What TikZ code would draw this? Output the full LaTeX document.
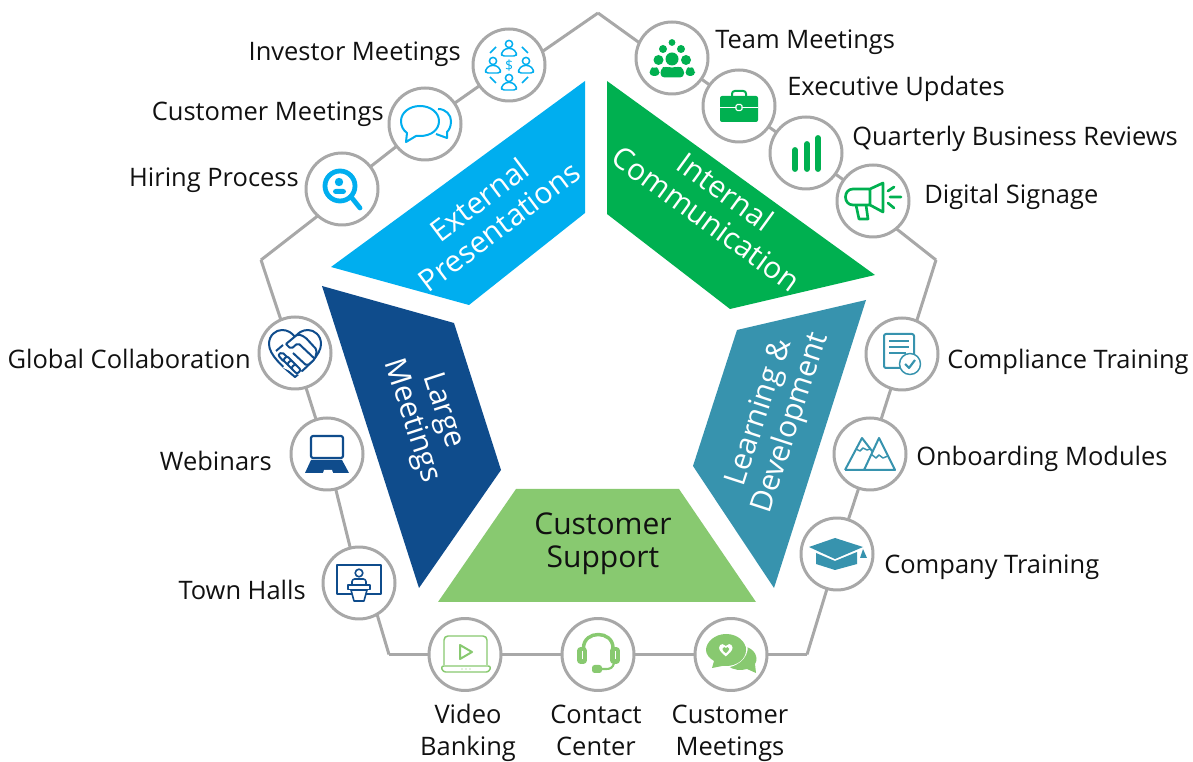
\documentclass[tikz,border=0pt]{standalone}
\usepackage{fontspec}
\setmainfont{Open Sans}
\definecolor{cext}{HTML}{00AEEF}
\definecolor{cint}{HTML}{00B050}
\definecolor{cled}{HTML}{3793AE}
\definecolor{csup}{HTML}{88C970}
\definecolor{clrg}{HTML}{0F4C8C}
\definecolor{cring}{HTML}{A8A8A8}
\definecolor{ctxt}{HTML}{111111}
\newcommand{\lblfont}{\fontsize{19.1pt}{24pt}\selectfont}
\newcommand{\segfont}{\fontsize{22.5pt}{24.7pt}\selectfont}
\newcommand{\personicon}[2]{%
 \draw[cext,line width=1.1pt] (#1,#2-5) circle (3.6);
 \draw[cext,line width=1.1pt,rounded corners=2pt] (#1-7.5,#2+7) -- (#1-7.5,#2+3.5) -- (#1-3.5,#2-.5) -- (#1+3.5,#2-.5) -- (#1+7.5,#2+3.5) -- (#1+7.5,#2+7) -- cycle;}
\newcommand{\hearticon}{(0,24) .. controls (-12,14) and (-26,2) .. (-26,-9) .. controls (-26,-18) and (-19,-23) .. (-13,-23) .. controls (-7,-23) and (-3,-20) .. (0,-16) .. controls (3,-20) and (7,-23) .. (13,-23) .. controls (19,-23) and (26,-18) .. (26,-9) .. controls (26,2) and (12,14) .. (0,24) -- cycle}
\tikzset{
 ring/.style={circle,draw=cring,line width=2.25pt,fill=white,minimum size=54pt,inner sep=0pt,outer sep=0pt},
 conn/.style={draw=cring,line width=2.25pt},
 lbl/.style={text=ctxt,font=\lblfont,inner sep=0pt},
 seg/.style={font=\segfont,align=center,inner sep=0pt,text=white},
}
\begin{document}
\begin{tikzpicture}[x=0.75pt,y=-0.75pt,line join=round]
\useasboundingbox (0,0) rectangle (1193,762);
% corners
\coordinate (top) at (598,13);
\coordinate (rgt) at (936,260);
\coordinate (brt) at (807,654.5);
\coordinate (blf) at (389,654.5);
\coordinate (lft) at (261,260);
% rings
\node[ring] (inv) at (509,65) {};
\node[ring] (cus) at (425,124) {};
\node[ring] (hir) at (342,189) {};
\node[ring] (tea) at (672,58) {};
\node[ring] (exe) at (739,106) {};
\node[ring] (qbr) at (806,153) {};
\node[ring] (sig) at (873,201) {};
\node[ring] (com) at (902,354) {};
\node[ring] (onb) at (870,454) {};
\node[ring] (cmp) at (837,554) {};
\node[ring] (cme) at (731,654.5) {};
\node[ring] (con) at (598,654.5) {};
\node[ring] (vid) at (465,654.5) {};
\node[ring] (tow) at (359,583) {};
\node[ring] (web) at (327,454) {};
\node[ring] (glo) at (295,353) {};
% connectors
\draw[conn] (top) -- (inv.22);
\draw[conn] (top) -- (tea.155);
\draw[conn] (inv) -- (cus);
\draw[conn] (cus) -- (hir);
\draw[conn] (hir.228) -- (lft);
\draw[conn] (tea) -- (exe);
\draw[conn] (exe) -- (qbr);
\draw[conn] (qbr) -- (sig);
\draw[conn] (sig.-50) -- (rgt);
\draw[conn] (rgt) -- (com.66);
\draw[conn] (com) -- (onb);
\draw[conn] (onb) -- (cmp);
\draw[conn] (cmp.-106) -- (brt);
\draw[conn] (brt) -- (cme);
\draw[conn] (cme) -- (con);
\draw[conn] (con) -- (vid);
\draw[conn] (vid) -- (blf);
\draw[conn] (blf) -- (tow.-60);
\draw[conn] (tow) -- (web);
\draw[conn] (web) -- (glo);
\draw[conn] (glo.113) -- (lft);
% segments
\fill[cext] (585,81) -- (585,213) -- (469,305) -- (331,267) -- cycle;
\fill[cint] (607,81) -- (875,275) -- (730,309) -- (607,214) -- cycle;
\fill[cled] (866,300) -- (774,588) -- (693,466) -- (737,330) -- cycle;
\fill[csup] (516,489) -- (679,489) -- (756,602) -- (438,602) -- cycle;
\fill[clrg] (322,286) -- (454,323) -- (501,470) -- (419,588) -- cycle;
\node[seg,rotate=37] (sext) at (489,213) {External\\Presentations};
\node[seg,rotate=-36] (sint) at (716,205) {Internal\\Communication};
\node[seg,rotate=72] (sled) at (776,418) {Learning \&\\Development};
\node[seg,rotate=-72] (slrg) at (427,416) {Large\\Meetings};
\node[seg,text=ctxt] (ssup) at (603,544) {Customer\\Support};
% labels
\node[lbl,anchor=base east] (l1) at (461,61) {Investor Meetings};
\node[lbl,anchor=base east] (l2) at (384,121) {Customer Meetings};
\node[lbl,anchor=base east] (l3) at (299,187) {Hiring Process};
\node[lbl,anchor=base west] (l4) at (715,49) {Team Meetings};
\node[lbl,anchor=base west] (l5) at (787,96) {Executive Updates};
\node[lbl,anchor=base west] (l6) at (852,146) {Quarterly Business Reviews};
\node[lbl,anchor=base west] (l7) at (924,204) {Digital Signage};
\node[lbl,anchor=base west] (l8) at (947,369) {Compliance Training};
\node[lbl,anchor=base west] (l9) at (916,466) {Onboarding Modules};
\node[lbl,anchor=base west] (l10) at (884,574) {Company Training};
\node[lbl,anchor=base east] (l11) at (251,369) {Global Collaboration};
\node[lbl,anchor=base east] (l12) at (272,471) {Webinars};
\node[lbl,anchor=base east] (l13) at (306,600) {Town Halls};
\node[lbl,anchor=base] (l14) at (468,724) {Video};
\node[lbl,anchor=base] (l15) at (468,755.5) {Banking};
\node[lbl,anchor=base] (l16) at (596,724) {Contact};
\node[lbl,anchor=base] (l17) at (596,755.5) {Center};
\node[lbl,anchor=base] (l18) at (730,724) {Customer};
\node[lbl,anchor=base] (l19) at (730,755.5) {Meetings};
% --- icons ---
% investor
\begin{scope}[shift={(509,65)}]
 \personicon{0}{-16}\personicon{-16}{1}\personicon{17}{1}\personicon{0}{18}
 \node[text=cext,font=\fontsize{10.5pt}{12pt}\selectfont,inner sep=0pt] (dol) at (0,1) {\$};
 \draw[cext,line width=1.1pt] (-19,-12) -- (-13,-18) (13,-18) -- (19,-12) (-19,12) -- (-13,18) (13,18) -- (19,12);
\end{scope}
% customer bubbles
\begin{scope}[shift={(425,124)}]
 \draw[cext,line width=1.5pt] (13,-15) .. controls (21,-15) and (26,-9) .. (26,-3) .. controls (26,3) and (24,6) .. (22,8) -- (22,14) -- (11,10);
 \draw[cext,line width=1.5pt,fill=white] (-5,-18) .. controls (6,-18) and (14,-11) .. (14,-3) .. controls (14,6) and (6,12) .. (-5,12) -- (-9,12) -- (-19,18) -- (-18,9) .. controls (-22,6) and (-24,2) .. (-24,-3) .. controls (-24,-11) and (-16,-18) .. (-5,-18) -- cycle;
\end{scope}
% hiring
\begin{scope}[shift={(342,189)}]
 \draw[cext,line width=3.6pt] (-2,-3) circle (15);
 \draw[cext,line width=3.6pt,line cap=round] (10,9) -- (18,19);
 \fill[cext] (-3,-7) circle (4.2);
 \fill[cext,rounded corners=2pt] (-9,5) -- (-9,0) -- (4,0) -- (4,5) -- cycle;
\end{scope}
% team
\begin{scope}[shift={(672,58)},cint]
 \fill (0,-15.5) circle (3.4) (-9,-9) circle (4) (9,-9) circle (4) (-13.5,2) circle (5) (14,2) circle (5) (0,1) circle (6.5);
 \fill[rounded corners=3pt] (-22.5,18) -- (-22.5,11) -- (-17.5,8.5) -- (-12.5,11) -- (-12.5,18) -- cycle;
 \fill[rounded corners=3pt] (23,18) -- (23,11) -- (18,8.5) -- (13.5,11) -- (13.5,18) -- cycle;
 \fill[rounded corners=3pt] (-11.5,19.5) -- (-11.5,10.5) -- (-6,8) -- (0,10.5) -- (6,8) -- (12,10.5) -- (12,19.5) -- cycle;
\end{scope}
% executive
\begin{scope}[shift={(739,106)}]
 \draw[cint,line width=1.5pt,rounded corners=2pt] (-7,-10) -- (-7,-15) -- (7,-15) -- (7,-10);
 \fill[cint,rounded corners=1.5pt] (-19,-10) rectangle (19,16);
 \draw[white,line width=.8pt] (-19,1.5) -- (19,1.5);
 \draw[white,line width=.8pt,fill=cint,rounded corners=1pt] (-3,-1.5) rectangle (3,4.5);
\end{scope}
% qbr
\begin{scope}[shift={(806,153)}]
 \draw[cint,line width=4.4pt,line cap=round] (-11,-3) -- (-11,16) (1,-9) -- (1,16) (12,-15) -- (12,16);
\end{scope}
% signage
\begin{scope}[shift={(873,201)}]
 \draw[cint,line width=2pt] (-3,-12) -- (-20,-12) .. controls (-30,-12) and (-30,4) .. (-20,4) -- (-3,4) -- (10,11) -- (10,-18) -- cycle (-3,-12) -- (-3,4);
 \draw[cint,line width=2pt] (-17,4) -- (-14,18) -- (-5,18) -- (-7,4);
 \draw[cint,line width=2pt,line cap=round] (15,-10) -- (21,-14) (17,-4) -- (28,-4) (15,2) -- (21,7);
\end{scope}
% compliance
\begin{scope}[shift={(902,354)}]
 \draw[cled,line width=1.5pt,rounded corners=1.5pt] (-18,-20) rectangle (12,14);
 \draw[cled,line width=1.1pt] (-13,-13) -- (7,-13) (-13,-7) -- (7,-7) (-13,-1) -- (4,-1);
 \draw[cled,line width=1.1pt,fill=white] (8,10) circle (10.5);
 \draw[cled,line width=1.6pt] (3,10) -- (7,14) -- (13,6);
\end{scope}
% onboarding
\begin{scope}[shift={(870,454)}]
 \draw[cled,line width=1.5pt] (-25,16) -- (-8,-16) -- (2,-3) (-6,16) -- (9,-16) -- (25,16) -- cycle (-25,16) -- (-6,16);
 \draw[cled,line width=1.1pt] (-14,-5) -- (-10,-3) -- (-7,-6) -- (-3,-4) -- (0,-5);
 \draw[cled,line width=1.1pt] (1,0) -- (6,4) -- (9,1) -- (13,4) -- (18,2);
\end{scope}
% company
\begin{scope}[shift={(837,554)}]
 \fill[cled] (-28,-7) -- (-2,-16) -- (26,-7) -- (-2,5) -- cycle;
 \fill[cled] (-21,-1) -- (-2,7) -- (20,-2) -- (20,10) -- (-2,16) -- (-21,10) -- cycle;
 \fill[cled] (26,-5) -- (23,4) -- (30,4) -- cycle;
\end{scope}
% video
\begin{scope}[shift={(465,654)}]
 \draw[csup,line width=1.1pt,rounded corners=3pt] (-21,11) -- (-21,-18) -- (22,-18) -- (22,11);
 \draw[csup,line width=1.1pt,rounded corners=2pt] (-24,12) -- (26,12) -- (24,18) -- (-22,18) -- cycle;
 \draw[csup,line width=1.5pt] (-5,-9) -- (7,-2) -- (-5,5) -- cycle;
 \fill[csup] (-3,15) circle (.6) (1,15) circle (.6) (5,15) circle (.6);
\end{scope}
% contact
\begin{scope}[shift={(598,654)}]
 \draw[csup,line width=2.6pt] (-14.5,-6) .. controls (-14.5,-24) and (15,-24) .. (15,-6);
 \draw[csup,line width=1.4pt,fill=csup,rounded corners=2pt] (-20,-6) rectangle (-12,9);
 \draw[csup,line width=1.4pt,fill=csup,rounded corners=2pt] (13,-6) rectangle (21,9);
 \draw[white,line width=.6pt] (-16,-3) -- (-16,5) (17,-3) -- (17,5);
 \draw[csup,line width=1.6pt] (16,9) .. controls (15,14) and (12,15) .. (8,15) -- (-1,15);
 \fill[csup,rounded corners=2pt] (-6,11) rectangle (4,19);
\end{scope}
% customer meetings (green)
\begin{scope}[shift={(731,654)}]
 \fill[csup] (12,-8) .. controls (24,-6) and (28,4) .. (24,10) -- (25,19) -- (16,15) .. controls (10,17) and (2,16) .. (-3,12) -- cycle;
 \draw[white,line width=1.2pt] (15,-12) .. controls (19,-2) and (11,12) .. (-7,13);
 \fill[csup] (-5,-20) .. controls (7,-20) and (15,-12) .. (15,-4) .. controls (15,5) and (6,12) .. (-5,12) -- (-9,12) -- (-19,14) -- (-17,7) .. controls (-22,4) and (-25,0) .. (-25,-4) .. controls (-25,-12) and (-16,-20) .. (-5,-20) -- cycle;
 \fill[white,scale=.26,shift={(-20,-15)}] \hearticon;
 \fill[csup,scale=.13,shift={(-40,-30)}] \hearticon;
\end{scope}
% global
\begin{scope}[shift={(295,353)}]
 \draw[clrg,line width=1.5pt] \hearticon;
 \draw[white,line width=3pt] (-11,13) -- (9,22);
 \draw[clrg,line width=1.5pt,rounded corners=1.5pt,fill=white] (-9,-9) -- (3,-19) -- (10,-16) -- (22,-3) -- (20,6) -- (12,13) -- (-2,0);
 \draw[clrg,line width=1.5pt,rounded corners=1.5pt] (-9,-9) -- (-4,-4) -- (3,-10) -- (20,6) (-19,-2) -- (-12,-8);
 \draw[clrg,line width=1.5pt,rounded corners=1.5pt,fill=white] (-17,2) -- (-13,-1) -- (-7,5) -- (-11,9) -- cycle;
 \draw[clrg,line width=1.5pt,rounded corners=1.5pt,fill=white] (-12,7) -- (-8,3) -- (-2,9) -- (-6,13) -- cycle;
 \draw[clrg,line width=1.5pt,rounded corners=1.5pt,fill=white] (-8,11) -- (-4,7) -- (2,13) -- (-2,17) -- cycle;
 \draw[clrg,line width=1.5pt,rounded corners=1.5pt,fill=white] (-4,15) -- (0,11) -- (6,17) -- (2,21) -- cycle;
\end{scope}
% webinars
\begin{scope}[shift={(327,454)}]
 \draw[clrg,line width=1.6pt,rounded corners=1.5pt] (-16,-18) rectangle (16,4);
 \fill[clrg] (-16,6) -- (15,6) -- (22,19) -- (-22,19) -- cycle;
 \fill[white] (-3,16) -- (5,16) -- (6,19) -- (-4,19) -- cycle;
\end{scope}
% town halls
\begin{scope}[shift={(359,583)}]
 \draw[clrg,line width=1.5pt] (-22,-18) rectangle (22,11);
 \draw[clrg,line width=1.2pt,fill=white] (0,-10) circle (3.8);
 \draw[clrg,line width=1.2pt,fill=white,rounded corners=2pt] (-7,3) -- (-7,-4) -- (7,-4) -- (7,3);
 \draw[clrg,line width=1.2pt,fill=white] (-11,2) rectangle (11,6.5);
 \draw[clrg,line width=1.2pt,fill=white] (-8,7) -- (8,7) -- (5,18) -- (-5,18) -- cycle;
\end{scope}
\end{tikzpicture}
\end{document}
